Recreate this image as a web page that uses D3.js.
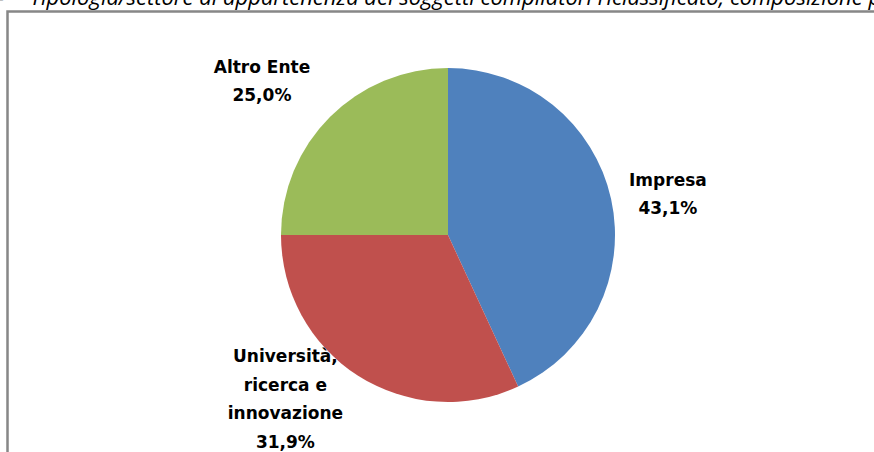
<!DOCTYPE html>
<html>
<head>
<meta charset="utf-8">
<script src="https://cdn.jsdelivr.net/npm/d3@7"></script>
<style>
  html, body { margin: 0; padding: 0; background: #fff; overflow: hidden; }
</style>
</head>
<body>
<div id="chart"></div>
<script>
// Data
var categories = ["Impresa", "Università, ricerca e innovazione", "Altro Ente"];
var labelLines = [["Impresa"], ["Università,", "ricerca e", "innovazione"], ["Altro Ente"]];
var values = [43.1, 31.9, 25.0];
var colors = ["#4F81BD", "#C0504D", "#9BBB59"];
var titleText = "Tipologia/settore di appartenenza dei soggetti compilatori riclassificato, composizione percentuale";

// Canvas
var w = 874, h = 452;
var svg = d3.select("#chart").append("svg").attr("width", w).attr("height", h);

// frame of the chart area (only top and left visible)
svg.append("rect").attr("x", 7.5).attr("y", 11.5).attr("width", w + 20).attr("height", h + 20)
   .attr("fill", "none").attr("stroke", "#878787").attr("stroke-width", 2.5);

// title, cut off at top of the picture
var title = svg.append("text").attr("x", 30).attr("y", 4.5)
   .style("font-family", "'Open Sans', sans-serif").style("font-style", "italic")
   .style("font-size", "18px").attr("fill", "#000");
title.text("Tipologia/settore di appartenenza dei soggetti compilatori riclassificato, composizione ");
var prefixW = title.node().getComputedTextLength();
title.style("font-size", (18 * 833 / prefixW) + "px").text(titleText);
svg.append("text").attr("x", 4).attr("y", 4.5).attr("text-anchor", "end")
   .style("font-family", "'Open Sans', sans-serif").style("font-style", "italic")
   .style("font-size", "18px").text("2 –");

// Pie
var cx = 448, cy = 235, r = 167;
var pie = d3.pie().sort(null).value(function(d){ return d; });
var arcs = pie(values);
var arc = d3.arc().innerRadius(0).outerRadius(r);
var labelArc = d3.arc().innerRadius(r * 1.33).outerRadius(r * 1.33);

var g = svg.append("g").attr("transform", "translate(" + cx + "," + cy + ")");
g.selectAll("path").data(arcs).enter().append("path")
  .attr("d", arc)
  .attr("fill", function(d, i){ return colors[i]; });

// labels
var nudge = [[3, 7], [-43, -23], [-29, 3]];
var lh = 28.5;
g.selectAll("text.lbl").data(arcs).enter().append("text")
  .attr("class", "lbl")
  .attr("text-anchor", "middle")
  .style("font-family", "'DejaVu Sans', sans-serif")
  .style("font-weight", "bold")
  .style("font-size", "17px")
  .attr("fill", "#000")
  .each(function(d, i){
    var c = labelArc.centroid(d);
    var lines = labelLines[i].concat([d3.format(".1f")(values[i]).replace(".", ",") + "%"]);
    var x = c[0] + nudge[i][0];
    var y0 = c[1] - (lines.length - 1) * lh / 2 + 6 + nudge[i][1];
    var t = d3.select(this);
    lines.forEach(function(s, k){
      t.append("tspan").attr("x", x).attr("y", y0 + k * lh).text(s);
    });
  });
</script>
</body>
</html>
